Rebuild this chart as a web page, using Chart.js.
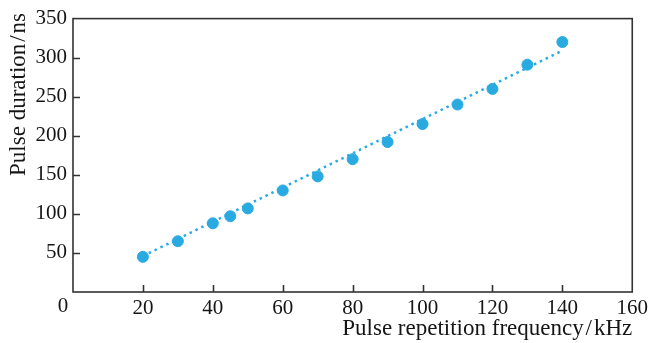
<!DOCTYPE html>
<html>
<head>
<meta charset="utf-8">
<script src="https://cdn.jsdelivr.net/npm/chart.js"></script>
<style>
  html, body { margin: 0; padding: 0; background: #fff; }
  #wrap { width: 652px; height: 343px; }
</style>
</head>
<body>
<div id="wrap"><canvas id="line-chart"></canvas></div>
<script>
var frequency = [20, 30, 40, 45, 50, 60, 70, 80, 90, 100, 110, 120, 130, 140];
var duration = [45, 65, 88, 97, 107, 130, 148, 170, 192, 215, 240, 260, 291, 320];
// fitted line end points
var fitFrequency = [20, 140];
var fitDuration = [46, 309];
var xTicks = [0, 20, 40, 60, 80, 100, 120, 140, 160];
var yTicks = [50, 100, 150, 200, 250, 300, 350];
var xTitle = 'Pulse repetition frequency\u200a/\u200akHz';
var yTitle = 'Pulse duration\u200a/\u200ans';

var blue = "#29abe2";
var axisColor = "#333333";
var textColor = "#151515";
var family = "'Liberation Serif', 'Times New Roman', serif";
var font = { family: family, size: 21 };
var titleFont = { family: family, size: 23 };

// box around the plot plus inward ticks, the shifted "0" and the y title
var frame = {
  id: 'frame',
  afterDraw: function (chart) {
    var ctx = chart.ctx, a = chart.chartArea;
    var xs = chart.scales.x, ys = chart.scales.y;
    ctx.save();
    ctx.strokeStyle = axisColor;
    ctx.lineWidth = 1.6;
    ctx.strokeRect(a.left, a.top, a.right - a.left, a.bottom - a.top);
    ctx.beginPath();
    xTicks.forEach(function (v) {
      if (v == 0 || v == 160) return;
      var px = Math.round(xs.getPixelForValue(v)) + 0.5;
      ctx.moveTo(px, a.bottom);
      ctx.lineTo(px, a.bottom - 7);
    });
    yTicks.forEach(function (v) {
      if (v == 350) return;
      var py = Math.round(ys.getPixelForValue(v)) + 0.5;
      ctx.moveTo(a.left, py);
      ctx.lineTo(a.left + 7, py);
    });
    ctx.stroke();
    ctx.fillStyle = textColor;
    ctx.font = font.size + "px " + family;
    ctx.textAlign = "center";
    ctx.textBaseline = "top";
    ctx.fillText("0", xs.getPixelForValue(0) - 10, a.bottom + 4);

    ctx.translate(19, 13);
    ctx.rotate(-Math.PI / 2);
    ctx.font = titleFont.size + "px " + family;
    ctx.textAlign = "right";
    ctx.textBaseline = "middle";
    ctx.fillText(yTitle, 0, 0);
    ctx.restore();
  }
};

new Chart(document.getElementById("line-chart"), {
  type: 'scatter',
  data: {
    datasets: [{
        data: frequency.map(function (f, i) { return { x: f, y: duration[i] }; }),
        backgroundColor: blue,
        borderColor: blue,
        pointRadius: 5.5,
        showLine: false
      },
      {
        data: fitFrequency.map(function (f, i) { return { x: f, y: fitDuration[i] }; }),
        borderColor: blue,
        borderWidth: 2.5,
        borderDash: [2.5, 4],
        pointRadius: 0,
        showLine: true,
        fill: false
      }
    ]
  },
  options: {
    animation: false,
    responsive: true,
    maintainAspectRatio: false,
    layout: { padding: { left: 0, right: 19, top: 18, bottom: 0 } },
    plugins: {
      legend: { display: false },
      tooltip: { enabled: false }
    },
    scales: {
      x: {
        type: 'linear',
        min: 0,
        max: 160,
        afterBuildTicks: function (scale) {
          scale.ticks = xTicks.map(function (v) { return { value: v }; });
        },
        afterFit: function (scale) { scale.height = 51; },
        grid: { display: false, drawTicks: false },
        border: { display: false },
        ticks: {
          color: textColor,
          font: font,
          padding: 4,
          maxRotation: 0,
          callback: function (v) { return v == 0 ? '' : v; }
        },
        title: {
          display: true,
          align: 'end',
          text: xTitle,
          color: textColor,
          font: titleFont,
          padding: { top: 0, bottom: 0 }
        }
      },
      y: {
        min: 0,
        max: 350,
        afterBuildTicks: function (scale) {
          scale.ticks = yTicks.map(function (v) { return { value: v }; });
        },
        afterFit: function (scale) { scale.width = 73; },
        grid: { display: false, drawTicks: false },
        border: { display: false },
        ticks: {
          color: textColor,
          font: font,
          padding: 6
        },
        title: { display: false }
      }
    }
  },
  plugins: [frame]
});
</script>
</body>
</html>
